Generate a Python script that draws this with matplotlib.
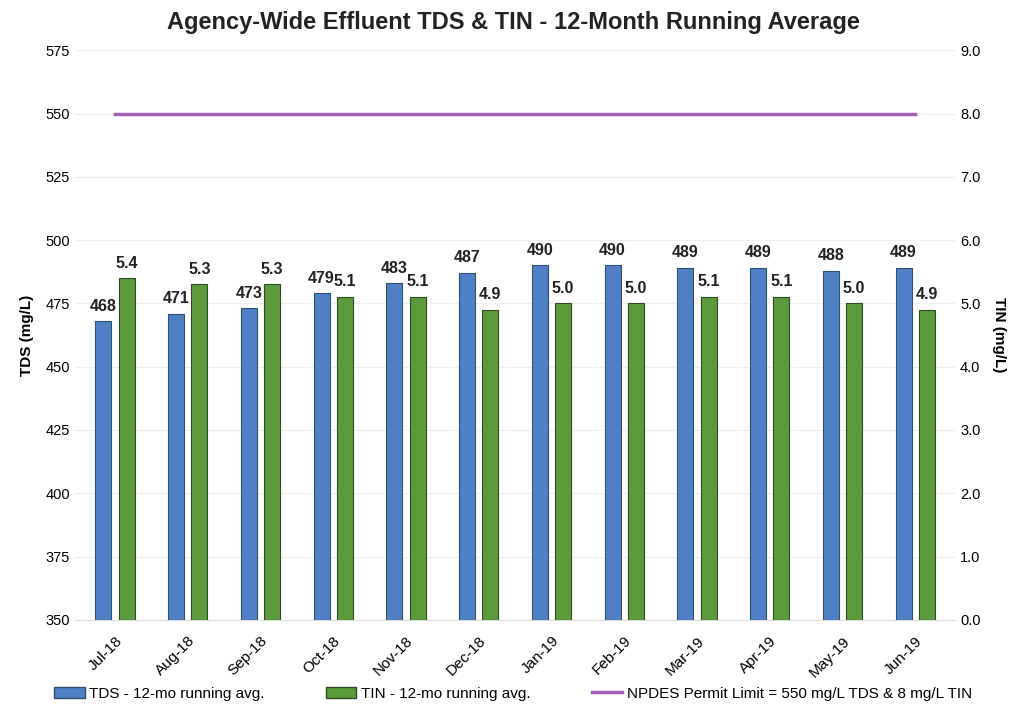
import matplotlib.pyplot as plt
import numpy as np

months = ['Jul-18', 'Aug-18', 'Sep-18', 'Oct-18', 'Nov-18', 'Dec-18',
          'Jan-19', 'Feb-19', 'Mar-19', 'Apr-19', 'May-19', 'Jun-19']
tds = [468, 471, 473, 479, 483, 487, 490, 490, 489, 489, 488, 489]
tin = [5.4, 5.3, 5.3, 5.1, 5.1, 4.9, 5.0, 5.0, 5.1, 5.1, 5.0, 4.9]
tds_limit = 550
tin_limit = 8

plt.rcParams['font.family'] = ['Liberation Sans', 'DejaVu Sans']

fig = plt.figure(figsize=(10.26, 7.19), dpi=100)
ax = fig.add_axes([0.073, 0.138, 0.858, 0.792])
ax2 = ax.twinx()

x = np.arange(len(months))
w = 0.22
off = 0.16

ax.bar(x - off, np.array(tds) - 350, w, bottom=350, color='#4f7fc4',
       edgecolor='#2f4f6f', linewidth=0.8, zorder=3)
ax2.bar(x + off, tin, w, color='#5b9b3c', edgecolor='#2f4a22',
        linewidth=0.8, zorder=3)
ax.plot(x, [tds_limit] * len(x), color='#a35fb5', linewidth=2.5, zorder=4)

for i in range(len(x)):
    ax.text(x[i] - off, tds[i] + 3, str(tds[i]), ha='center', va='bottom',
            fontsize=11.5, fontweight='bold', color='#222222')
    ax2.text(x[i] + off, tin[i] + 0.12, '%.1f' % tin[i], ha='center', va='bottom',
             fontsize=11.5, fontweight='bold', color='#222222')

ax.set_xlim(-0.55, 11.55)
ax.set_ylim(350, 575)
ax.set_yticks(range(350, 576, 25))
ax2.set_ylim(0, 9)
ax2.set_yticks(np.arange(0, 9.1, 1.0))
ax2.set_yticklabels(['%.1f' % v for v in np.arange(0, 9.1, 1.0)])

ax.set_xticks(x)
ax.set_xticklabels(months, rotation=45, ha='right', rotation_mode='anchor', fontsize=11)
ax.tick_params(axis='y', labelsize=10.5, length=0)
ax2.tick_params(axis='y', labelsize=10.5, length=0)
ax.tick_params(axis='x', length=0, pad=10)

ax.grid(axis='y', color='#eeeeee', linewidth=0.8, zorder=0)
ax.set_axisbelow(True)
for a in (ax, ax2):
    for s in a.spines.values():
        s.set_visible(False)
ax.spines['bottom'].set_visible(True)
ax.spines['bottom'].set_color('#dddddd')

ax.set_ylabel('TDS (mg/L)', fontsize=11, fontweight='bold', labelpad=8)
ax2.set_ylabel('TIN (mg/L)', fontsize=11, fontweight='bold', rotation=270, labelpad=18)

fig.suptitle('Agency-Wide Effluent TDS & TIN - 12-Month Running Average',
             fontsize=17, fontweight='bold', color='#222222', y=0.985)

h1 = plt.Rectangle((0, 0), 1, 1, color='#4f7fc4', ec='#2f4f6f')
h2 = plt.Rectangle((0, 0), 1, 1, color='#5b9b3c', ec='#2f4a22')
h3 = plt.Line2D([0], [0], color='#a35fb5', linewidth=2.5)
fig.legend([h1, h2, h3],
           ['TDS - 12-mo running avg.', 'TIN - 12-mo running avg.',
            'NPDES Permit Limit = 550 mg/L TDS & 8 mg/L TIN'],
           loc='center', bbox_to_anchor=(0.5, 0.035), ncol=3, frameon=False,
           fontsize=11, handlelength=2.0, handletextpad=0.3, columnspacing=4)

fig.savefig('out.png', dpi=100)
